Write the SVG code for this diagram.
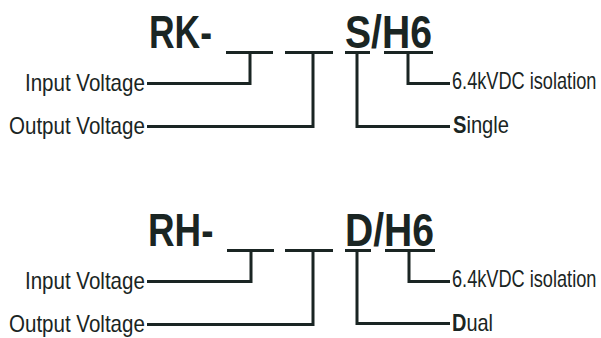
<svg xmlns="http://www.w3.org/2000/svg" width="601" height="338" viewBox="0 0 601 338">
<style>
.code{font-family:"Liberation Sans",Arial,sans-serif;font-weight:bold;font-size:46px;fill:#1a2523}
.lbl{font-family:"Liberation Sans",Arial,sans-serif;font-size:23px;fill:#1a2523}
.b{font-weight:bold}
.ln{fill:none;stroke:#1a2523;stroke-width:3;stroke-linecap:butt;stroke-linejoin:miter}
</style>
<rect width="601" height="338" fill="#ffffff"/>
<g id="model-rk">
<text class="code" transform="translate(149,48) scale(0.77,1)">RK-</text>
<text class="code" transform="translate(345,48) scale(0.85,1)">S/H6</text>
</g>
<g id="labels-rk">
<text id="rk-input" class="lbl" transform="translate(25,91) scale(0.893,1)">Input Voltage</text>
<text id="rk-output" class="lbl" transform="translate(9,134) scale(0.893,1)">Output Voltage</text>
<text id="rk-iso" class="lbl" transform="translate(452,89) scale(0.79,1)">6.4kVDC isolation</text>
<text id="rk-single" class="lbl" transform="translate(453,133) scale(0.876,1)"><tspan class="b">S</tspan>ingle</text>
</g>
<g id="model-rh">
<text class="code" transform="translate(148,246) scale(0.8,1)">RH-</text>
<text class="code" transform="translate(345,246) scale(0.85,1)">D/H6</text>
</g>
<g id="labels-rh">
<text id="rh-input" class="lbl" transform="translate(25,289) scale(0.893,1)">Input Voltage</text>
<text id="rh-output" class="lbl" transform="translate(9,332) scale(0.893,1)">Output Voltage</text>
<text id="rh-iso" class="lbl" transform="translate(452,287) scale(0.79,1)">6.4kVDC isolation</text>
<text id="rh-dual" class="lbl" transform="translate(452,331) scale(0.867,1)"><tspan class="b">D</tspan>ual</text>
</g>
<g id="connectors">
<path class="ln" d="M226,52.5H273M285,52.5H333M345,52.5H370M384,52.5H433"/>
<path class="ln" d="M250,52.5V83.5H147"/>
<path class="ln" d="M313,52.5V126.5H147"/>
<path class="ln" d="M357,52.5V126.5H450"/>
<path class="ln" d="M408,52.5V83.5H450"/>
<path class="ln" d="M227,250.5H274M285,250.5H333M345,250.5H371M385,250.5H435"/>
<path class="ln" d="M251,250.5V281.5H147"/>
<path class="ln" d="M313,250.5V324.5H147"/>
<path class="ln" d="M357,250.5V323.5H450"/>
<path class="ln" d="M409,250.5V281.5H450"/>
</g>
</svg>
